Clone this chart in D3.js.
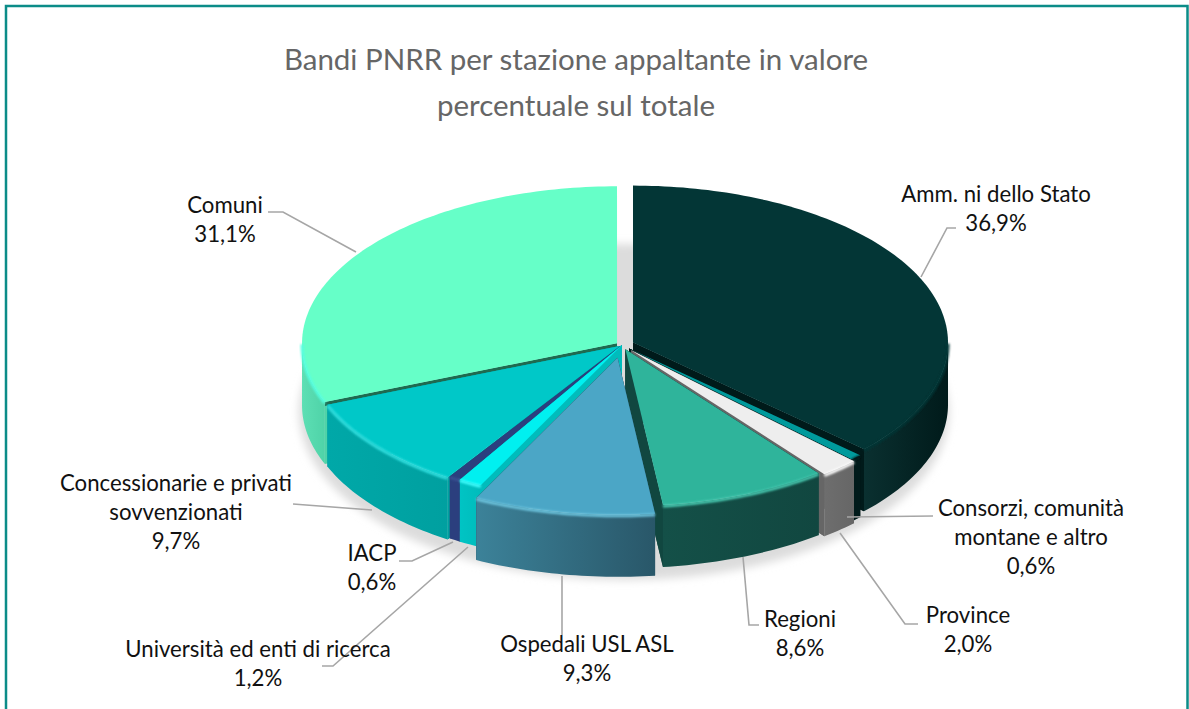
<!DOCTYPE html>
<html><head><meta charset="utf-8">
<script src="https://cdnjs.cloudflare.com/ajax/libs/d3/7.8.5/d3.min.js"></script>
<style>html,body{margin:0;padding:0;background:#fff}svg{display:block}text{font-family:Lato,Carlito,sans-serif}</style>
</head><body><svg id="c" width="1189" height="709"></svg>
<script>
const categories=["Amm. ni dello Stato","Consorzi, comunità montane e altro","Province","Regioni","Ospedali USL ASL","Università ed enti di ricerca","IACP","Concessionarie e privati sovvenzionati","Comuni"];
const values=[36.9,0.6,2.0,8.6,9.3,1.2,0.6,9.7,31.1];
const valueLabels=["36,9%","0,6%","2,0%","8,6%","9,3%","1,2%","0,6%","9,7%","31,1%"];
const titleLines=["Bandi PNRR per stazione appaltante in valore","percentuale sul totale"];
const explode=[12,10,14,9,26,0,0,3,6];
const topColors=["#033636","#009a9c","#eeeeee","#2fb49b","#4ba6c6","#00f0f0","#2b3f7e","#00c8c8","#66ffc8"];
const wallA=["#0a3030","#001a1a","#6e6e6e","#145048","#3c8299","#00c4c4","#2b3f7e","#00a8a8","#5ddfb4"];
const wallB=["#001a1a","#001a1a","#666666","#114740","#295769","#00bcbc","#2b3f7e","#00a0a0","#4fd3a8"];
const cutColors=["#001a1a","#001a1a","#666666","#114740","#295769","#00bcbc","#2b3f7e","#00a0a0","#1f6a50"];
const bevel=["#033636","#001a1a","#ffffff","#46c9b0","#6cc4de","#40ffff","#3a5090","#30e0e0","#55ffe0"];
const cutDepth=[62,62,62,62,62,62,62,62,4];
const drawOrder=[8,0,1,7,6,5,2,3,4];
const labelLines=[["Amm. ni dello Stato"],["Consorzi, comunità","montane e altro"],["Province"],["Regioni"],["Ospedali USL ASL"],["Università ed enti di ricerca"],["IACP"],["Concessionarie e privati","sovvenzionati"],["Comuni"]];
const labelX=[996,1031,968,800,587,258,372,176,225];
const labelY=[202,516,623,627,652,657,561,491,213];
const leaders=[[[921,277],[947,228],[956,228]],[[847,517],[933,516]],[[840,533],[905,624],[918,624]],[[743,557],[749,625],[759,625]],[[562,576],[562,635]],[[468,547],[333,666],[322,666]],[[453,542],[412,561],[399,561]],[[372,510],[293,504]],[[356,252],[283,212],[268,212]]];

const svg=d3.select("#c");
const W=1189,H=709,cx=622,cy=345,rx=315,ry=157,depth=62;
const defs=svg.append("defs");
defs.append("filter").attr("id","soft").attr("x","-10%").attr("y","-10%").attr("width","120%").attr("height","120%").append("feGaussianBlur").attr("stdDeviation",4);
defs.append("filter").attr("id","bev").attr("x","-10%").attr("y","-30%").attr("width","120%").attr("height","160%").append("feGaussianBlur").attr("stdDeviation",1.1);

svg.append("rect").attr("x",6).attr("y",6).attr("width",1181.5).attr("height",H+10).attr("fill","#fff").attr("stroke","#0b8c88").attr("stroke-width",2.5);

const title=svg.append("g").attr("fill","#666666").attr("font-size",29.5).attr("text-anchor","middle");
titleLines.forEach((t,i)=>title.append("text").attr("x",576).attr("y",[70,116][i]).text(t));

svg.append("ellipse").attr("cx",624).attr("cy",412).attr("rx",325).attr("ry",168).attr("fill","#dcdcdc").attr("filter","url(#soft)");

const arcs=d3.pie().sort(null).value(d=>d)(values);
const unitX=d3.scaleLinear().domain([-1,1]).range([-rx,rx]);
const unitY=d3.scaleLinear().domain([-1,1]).range([ry,-ry]);
const pt=(a,ox,oy,z)=>[cx+unitX(Math.sin(a))+ox, cy+unitY(Math.cos(a))+oy+z];
const rim=(a0,a1,ox,oy,z)=>{const n=Math.max(2,Math.ceil((a1-a0)/0.02));return d3.range(n+1).map(i=>pt(a0+(a1-a0)*i/n,ox,oy,z));};
const line=d3.line();
const g=svg.append("g");

drawOrder.forEach(i=>{
  const d=arcs[i],mid=(d.startAngle+d.endAngle)/2,E=explode[i];
  const ox=Math.sin(mid)*E,oy=-Math.cos(mid)*E*ry/rx;
  const a=[cx+ox,cy+oy];
  const s=g.append("g");
  const gid="w"+i;
  const lg=defs.append("linearGradient").attr("id",gid);
  lg.append("stop").attr("offset","0%").attr("stop-color",wallA[i]);
  lg.append("stop").attr("offset","100%").attr("stop-color",wallB[i]);
  [d.startAngle,d.endAngle].forEach(an=>{
    const p=pt(an,ox,oy,0);
    s.append("path").attr("d",line([a,p,[p[0],p[1]+depth],[a[0],a[1]+depth]])+"Z").attr("fill",wallB[i]);
    s.append("path").attr("d",line([a,p,[p[0],p[1]+cutDepth[i]],[a[0],a[1]+cutDepth[i]]])+"Z").attr("fill",cutColors[i]);
  });
  const w0=Math.max(d.startAngle,Math.PI/2),w1=Math.min(d.endAngle,3*Math.PI/2);
  if(w1>w0){
    const upper=rim(w0,w1,ox,oy,0),lower=rim(w0,w1,ox,oy,depth).reverse();
    s.append("path").attr("d",line(upper.concat(lower))+"Z").attr("fill",`url(#${gid})`);
  }
  const top=[a].concat(rim(d.startAngle,d.endAngle,ox,oy,0));
  s.append("path").attr("d",line(top)+"Z").attr("fill",topColors[i]);
  if(w1>w0){
    s.append("path").attr("d",line(rim(w0,w1,ox,oy,1))).attr("fill","none").attr("stroke",bevel[i]).attr("stroke-width",3).attr("filter","url(#bev)");
  }
});

const lead=svg.append("g").attr("fill","none").attr("stroke","#a6a6a6").attr("stroke-width",1.6);
leaders.forEach(l=>lead.append("path").attr("d",line(l)));

const lab=svg.append("g").attr("fill","#111").attr("font-size",22.2).attr("text-anchor","middle");
categories.forEach((c,i)=>{
  const lines=labelLines[i].concat([valueLabels[i]]);
  lines.forEach((t,k)=>lab.append("text").attr("x",labelX[i]).attr("y",labelY[i]+k*29).text(t));
});
</script></body></html>
